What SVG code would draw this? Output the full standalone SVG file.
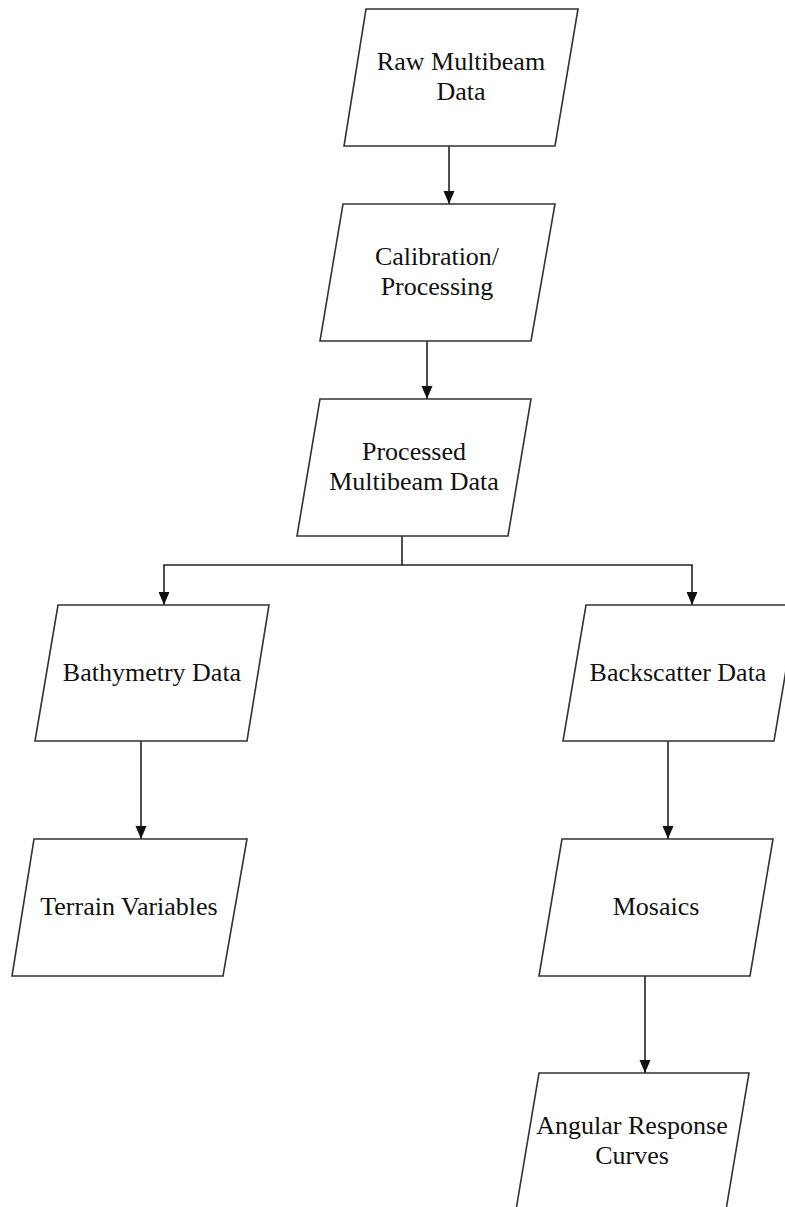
<svg xmlns="http://www.w3.org/2000/svg" width="785" height="1207" viewBox="0 0 785 1207">
<defs>
<marker id="ah" markerUnits="userSpaceOnUse" markerWidth="14" markerHeight="12" refX="13" refY="6" orient="auto" viewBox="0 0 14 12">
<path d="M0,0.5 L13,6 L0,11.5 Z" fill="#111"/>
</marker>
<style>
.box{fill:#fff;stroke:#333;stroke-width:1.6;stroke-linejoin:miter}
.t{font-family:"Liberation Serif","Times New Roman",serif;font-size:26px;fill:#111;text-anchor:middle}
.c{fill:none;stroke:#222;stroke-width:1.6}
.a{fill:none;stroke:#222;stroke-width:1.6;marker-end:url(#ah)}
</style>
</defs>
<rect width="785" height="1207" fill="#fff"/>
<g id="connectors">
<line class="a" x1="449" y1="146" x2="449" y2="204"/>
<line class="a" x1="427" y1="341" x2="427" y2="399"/>
<polyline class="c" points="402,536 402,565"/>
<polyline class="a" points="402,565 164,565 164,605"/>
<polyline class="a" points="402,565 692,565 692,605"/>
<line class="a" x1="141" y1="741" x2="141" y2="839"/>
<line class="a" x1="668" y1="741" x2="668" y2="839"/>
<line class="a" x1="645" y1="976" x2="645" y2="1073"/>
</g>
<g id="raw">
<polygon class="box" points="366,9 578,9 555,146 344,146"/>
<text class="t" x="461" y="70">Raw Multibeam</text>
<text class="t" x="461" y="100">Data</text>
</g>
<g id="calibration">
<polygon class="box" points="343,204 555,204 531,341 320,341"/>
<text class="t" x="437" y="265">Calibration/</text>
<text class="t" x="437" y="295">Processing</text>
</g>
<g id="processed">
<polygon class="box" points="320,399 531,399 508,536 297,536"/>
<text class="t" x="414" y="460">Processed</text>
<text class="t" x="414" y="490">Multibeam Data</text>
</g>
<g id="bathymetry">
<polygon class="box" points="58,605 269,605 247,741 35,741"/>
<text class="t" x="152" y="681">Bathymetry Data</text>
</g>
<g id="backscatter">
<polygon class="box" points="586,605 797,605 774,741 563,741"/>
<text class="t" x="678" y="681">Backscatter Data</text>
</g>
<g id="terrain">
<polygon class="box" points="34,839 247,839 223,976 12,976"/>
<text class="t" x="129" y="915">Terrain Variables</text>
</g>
<g id="mosaics">
<polygon class="box" points="562,839 773,839 750,976 539,976"/>
<text class="t" x="656" y="915">Mosaics</text>
</g>
<g id="angular">
<polygon class="box" points="539,1073 749,1073 726,1210 516,1210"/>
<text class="t" x="632" y="1134">Angular Response</text>
<text class="t" x="632" y="1164">Curves</text>
</g>
</svg>
